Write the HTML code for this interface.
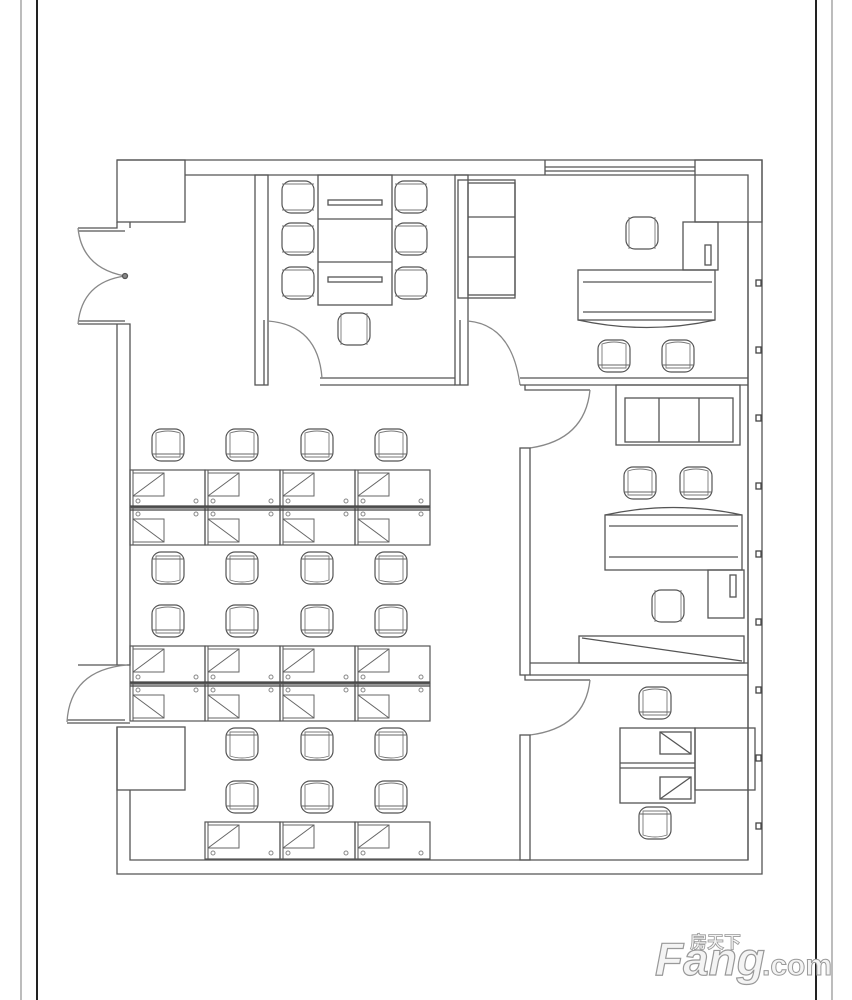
<!DOCTYPE html>
<html><head><meta charset="utf-8"><style>
html,body{margin:0;padding:0;background:#fff;width:852px;height:1000px;overflow:hidden}
svg{display:block}
</style></head><body>
<svg width="852" height="1000" viewBox="0 0 852 1000" xmlns="http://www.w3.org/2000/svg">
<defs>
<g id="ch">
<rect x="-16" y="-16" width="32" height="32" rx="9" fill="#fff" stroke="#555" stroke-width="1.2"/>
<path d="M-12 -12 Q0 -16 12 -12 L12 12 L-12 12 Z" fill="none" stroke="#777" stroke-width="0.9"/>
<line x1="-16" y1="9" x2="16" y2="9" stroke="#666" stroke-width="0.9"/>
</g>
<g id="chs">
<rect x="-16" y="-16" width="32" height="32" rx="9" fill="#fff" stroke="#555" stroke-width="1.2"/>
<line x1="-13" y1="-16" x2="-13" y2="16" stroke="#777" stroke-width="0.9"/>
<line x1="13" y1="-16" x2="13" y2="16" stroke="#777" stroke-width="0.9"/>
</g>
<g id="cellT">
<rect x="0" y="0" width="75" height="37" fill="none" stroke="#555" stroke-width="1.2"/>
<rect x="3" y="3" width="31" height="23" fill="none" stroke="#666" stroke-width="1"/>
<line x1="3" y1="26" x2="34" y2="3" stroke="#666" stroke-width="1"/>
<line x1="3" y1="0" x2="3" y2="37" stroke="#555" stroke-width="1"/>
<circle cx="8" cy="31" r="2" fill="none" stroke="#888"/>
<circle cx="66" cy="31" r="2" fill="none" stroke="#888"/>
</g>
<g id="cellB">
<rect x="0" y="0" width="75" height="37" fill="none" stroke="#555" stroke-width="1.2"/>
<rect x="3" y="11" width="31" height="23" fill="none" stroke="#666" stroke-width="1"/>
<line x1="3" y1="11" x2="34" y2="34" stroke="#666" stroke-width="1"/>
<line x1="3" y1="0" x2="3" y2="37" stroke="#555" stroke-width="1"/>
<circle cx="8" cy="6" r="2" fill="none" stroke="#888"/>
<circle cx="66" cy="6" r="2" fill="none" stroke="#888"/>
</g>
</defs>
<g fill="none" stroke="#555" stroke-width="1.3">
<!-- page border lines -->
<line x1="21" y1="0" x2="21" y2="1000" stroke="#999"/>
<line x1="37" y1="0" x2="37" y2="1000" stroke="#222" stroke-width="2"/>
<line x1="816" y1="0" x2="816" y2="1000" stroke="#222" stroke-width="2"/>
<line x1="832" y1="0" x2="832" y2="1000" stroke="#999"/>

<!-- outer walls -->
<path d="M117 160 H762 V874 H117 V727"/>
<path d="M185 175 H748 V860 H130 V790"/>
<rect x="117" y="160" width="68" height="62"/>
<rect x="117" y="727" width="68" height="63"/>
<path d="M117 222 V228 H78"/><path d="M78 324 H130 V665 H78"/>
<line x1="117" y1="324" x2="117" y2="665"/>
<path d="M130 222 V228"/>
<line x1="78" y1="231" x2="125" y2="231"/><line x1="78" y1="321" x2="125" y2="321"/>
<path d="M78 228 Q82 268 125 276 Q82 282 78 324" stroke="#888"/>
<circle cx="125" cy="276" r="2.5" fill="#888"/>
<!-- left door lower -->
<line x1="67" y1="723" x2="130" y2="723"/><line x1="67" y1="720" x2="125" y2="720"/>
<path d="M67 722 Q70 670 127 665" stroke="#888"/>
<!-- top window -->
<line x1="545" y1="160" x2="545" y2="175"/><line x1="545" y1="167" x2="695" y2="167"/><line x1="545" y1="171" x2="695" y2="171"/>
<rect x="695" y="160" width="67" height="62"/>
<line x1="748" y1="222" x2="748" y2="860"/>
<g stroke="#444"><rect x="756" y="280" width="5" height="6"/><rect x="756" y="347" width="5" height="6"/><rect x="756" y="415" width="5" height="6"/><rect x="756" y="483" width="5" height="6"/><rect x="756" y="551" width="5" height="6"/><rect x="756" y="619" width="5" height="6"/><rect x="756" y="687" width="5" height="6"/><rect x="756" y="755" width="5" height="6"/><rect x="756" y="823" width="5" height="6"/></g>

<!-- meeting room walls -->
<rect x="255" y="175" width="13" height="210"/>
<line x1="264" y1="320" x2="264" y2="385"/>
<rect x="455" y="175" width="13" height="210"/>
<line x1="460" y1="320" x2="460" y2="385"/>
<path d="M320 378 H455 M320 385 H455"/>
<path d="M268 321 Q318 325 322 378" stroke="#888"/>
<!-- meeting table -->
<rect x="318" y="175" width="74" height="130"/>
<line x1="318" y1="219" x2="392" y2="219"/><line x1="318" y1="262" x2="392" y2="262"/>
<rect x="328" y="200" width="54" height="5"/><rect x="328" y="277" width="54" height="5"/>
</g>
<use href="#chs" transform="translate(298,197) rotate(90)"/>
<use href="#chs" transform="translate(298,239) rotate(90)"/>
<use href="#chs" transform="translate(298,283) rotate(90)"/>
<use href="#chs" transform="translate(411,197) rotate(-90)"/>
<use href="#chs" transform="translate(411,239) rotate(-90)"/>
<use href="#chs" transform="translate(411,283) rotate(-90)"/>
<use href="#chs" transform="translate(354,329)"/>

<g fill="none" stroke="#555" stroke-width="1.3">
<!-- sofa top -->
<rect x="458" y="180" width="57" height="118"/>
<rect x="468" y="183" width="47" height="112"/>
<line x1="468" y1="217" x2="515" y2="217"/><line x1="468" y1="257" x2="515" y2="257"/>
<!-- door right of meeting -->
<path d="M468 321 Q512 325 520 385" stroke="#888"/>
<path d="M520 378 H748 M520 385 H748"/>
<!-- top-right office -->
<rect x="683" y="222" width="35" height="48"/><rect x="705" y="245" width="6" height="20"/>
<rect x="578" y="270" width="137" height="50"/>
<line x1="583" y1="282" x2="712" y2="282"/><line x1="583" y1="312" x2="712" y2="312"/>
<path d="M578 320 Q647 335 715 320"/>
</g>
<use href="#chs" transform="translate(642,233) rotate(180)"/>
<use href="#ch" transform="translate(614,356)"/>
<use href="#ch" transform="translate(678,356)"/>

<g fill="none" stroke="#555" stroke-width="1.3">
<!-- middle office -->
<path d="M525 385 V390 H590"/>
<path d="M590 390 Q585 440 530 448" stroke="#888"/>
<rect x="520" y="448" width="10" height="227"/>
<rect x="616" y="385" width="124" height="60"/>
<rect x="625" y="398" width="108" height="44"/>
<line x1="659" y1="398" x2="659" y2="442"/><line x1="699" y1="398" x2="699" y2="442"/>
<rect x="605" y="515" width="137" height="55"/>
<line x1="609" y1="526" x2="738" y2="526"/><line x1="609" y1="557" x2="738" y2="557"/>
<path d="M605 515 Q673 500 742 515"/>
<rect x="708" y="570" width="36" height="48"/><rect x="730" y="575" width="6" height="22"/>
<rect x="579" y="636" width="165" height="27"/>
<line x1="582" y1="638" x2="742" y2="661"/>
<path d="M530 663 H748 M530 675 H748"/>
<path d="M525 675 V680 H590"/>
<path d="M590 680 Q585 728 530 735" stroke="#888"/>
<rect x="520" y="735" width="10" height="125"/>
<!-- bottom right -->
<rect x="620" y="728" width="75" height="75"/>
<line x1="620" y1="763" x2="695" y2="763"/><line x1="620" y1="768" x2="695" y2="768"/>
<rect x="660" y="732" width="31" height="22"/><line x1="660" y1="732" x2="691" y2="754"/>
<rect x="660" y="777" width="31" height="22"/><line x1="660" y1="799" x2="691" y2="777"/>
<rect x="695" y="728" width="60" height="62"/>
</g>
<use href="#ch" transform="translate(655,703)"/>
<use href="#ch" transform="translate(655,823) rotate(180)"/>
<use href="#ch" transform="translate(696,483)"/>
<use href="#ch" transform="translate(640,483)"/>
<use href="#chs" transform="translate(668,606)"/>

<!-- workstations -->
<g>
<use href="#cellT" x="130" y="470"/><use href="#cellT" x="205" y="470"/><use href="#cellT" x="280" y="470"/><use href="#cellT" x="355" y="470"/>
<use href="#cellB" x="130" y="508"/><use href="#cellB" x="205" y="508"/><use href="#cellB" x="280" y="508"/><use href="#cellB" x="355" y="508"/>
<use href="#cellT" x="130" y="646"/><use href="#cellT" x="205" y="646"/><use href="#cellT" x="280" y="646"/><use href="#cellT" x="355" y="646"/>
<use href="#cellB" x="130" y="684"/><use href="#cellB" x="205" y="684"/><use href="#cellB" x="280" y="684"/><use href="#cellB" x="355" y="684"/>
<use href="#cellT" x="205" y="822"/><use href="#cellT" x="280" y="822"/><use href="#cellT" x="355" y="822"/>
</g>
<g stroke="#444" stroke-width="1.2"><line x1="130" y1="506" x2="430" y2="506"/><line x1="130" y1="510" x2="430" y2="510"/><line x1="130" y1="682" x2="430" y2="682"/><line x1="130" y1="686" x2="430" y2="686"/></g>
<g>
<use href="#ch" x="168" y="445"/><use href="#ch" x="242" y="445"/><use href="#ch" x="317" y="445"/><use href="#ch" x="391" y="445"/>
<use href="#ch" transform="translate(168,568) rotate(180)"/><use href="#ch" transform="translate(242,568) rotate(180)"/><use href="#ch" transform="translate(317,568) rotate(180)"/><use href="#ch" transform="translate(391,568) rotate(180)"/>
<use href="#ch" x="168" y="621"/><use href="#ch" x="242" y="621"/><use href="#ch" x="317" y="621"/><use href="#ch" x="391" y="621"/>
<use href="#ch" transform="translate(242,744) rotate(180)"/><use href="#ch" transform="translate(317,744) rotate(180)"/><use href="#ch" transform="translate(391,744) rotate(180)"/>
<use href="#ch" x="242" y="797"/><use href="#ch" x="317" y="797"/><use href="#ch" x="391" y="797"/>
</g>
<!-- watermark -->
<text x="655" y="975" font-family="Liberation Sans, sans-serif" font-weight="bold" font-style="italic" font-size="46" fill="#f4f4f4" stroke="#999" stroke-width="1.2">Fang</text>
<text x="762" y="975" font-family="Liberation Sans, sans-serif" font-weight="bold" font-size="30" fill="#f4f4f4" stroke="#999" stroke-width="1">.com</text>
<text x="690" y="948" font-family="Liberation Sans, Noto Sans CJK SC, sans-serif" font-weight="bold" font-size="17" fill="#f4f4f4" stroke="#999" stroke-width="0.8">房天下</text>
</svg>
</body></html>
